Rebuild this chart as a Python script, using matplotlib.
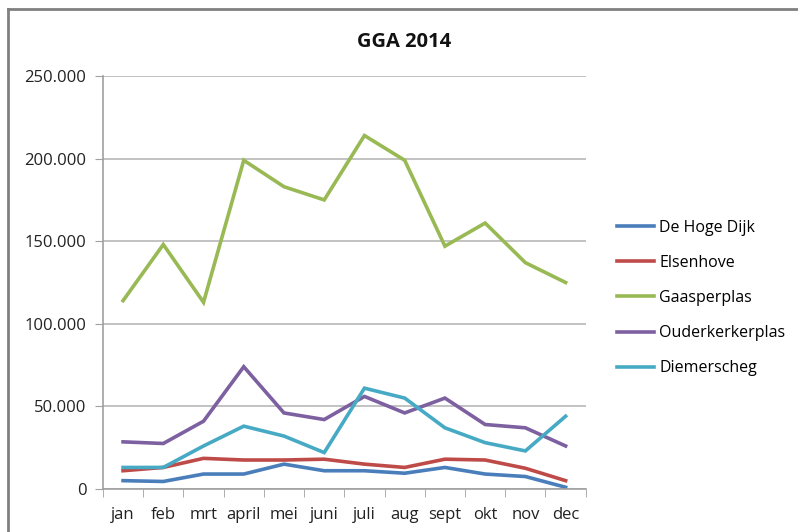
import matplotlib.pyplot as plt
from matplotlib.lines import Line2D
from matplotlib.ticker import FuncFormatter

plt.rcParams['font.family'] = ['Open Sans', 'DejaVu Sans']

maanden = ['jan', 'feb', 'mrt', 'april', 'mei', 'juni', 'juli', 'aug', 'sept', 'okt', 'nov', 'dec']
hoge_dijk = [5000, 4500, 9000, 9000, 15000, 11000, 11000, 9500, 13000, 9000, 7500, 1000]
elsenhove = [11000, 13000, 18500, 17500, 17500, 18000, 15000, 13000, 18000, 17500, 12500, 5000]
gaasperplas = [114000, 148000, 113000, 199000, 183000, 175000, 214000, 199000, 147000, 161000, 137000, 125000]
ouderkerkerplas = [28500, 27500, 41000, 74000, 46000, 42000, 56000, 46000, 55000, 39000, 37000, 26000]
diemerscheg = [13000, 13000, 26000, 38000, 32000, 22000, 61000, 55000, 37000, 28000, 23000, 44000]

reeksen = [('De Hoge Dijk', hoge_dijk, '#4a7ebb'),
           ('Elsenhove', elsenhove, '#be4b48'),
           ('Gaasperplas', gaasperplas, '#98b954'),
           ('Ouderkerkerplas', ouderkerkerplas, '#7d60a0'),
           ('Diemerscheg', diemerscheg, '#46aac5')]

fig = plt.figure(figsize=(7.98, 5.32), dpi=100)
ax = fig.add_axes([0.129, 0.081, 0.605, 0.776])

x = list(range(len(maanden)))
for naam, waarden, kleur in reeksen:
    ax.plot(x, waarden, color=kleur, lw=2.6, label=naam, solid_joinstyle='miter')

ax.set_xlim(-0.5, len(maanden) - 0.5)
ax.set_ylim(0, 250000)
ax.set_yticks(range(0, 250001, 50000))
ax.yaxis.set_major_formatter(FuncFormatter(lambda v, p: '{:,.0f}'.format(v).replace(',', '.')))
ax.set_xticks(x)
ax.set_xticklabels(maanden)
ax.set_xticks([i - 0.5 for i in range(len(maanden) + 1)], minor=True)
ax.tick_params(axis='x', which='major', length=0, pad=13, labelsize=12, colors='#222222')
ax.tick_params(axis='x', which='minor', length=6, color='#a0a0a0', direction='out')
ax.tick_params(axis='y', length=6, color='#a0a0a0', pad=6, labelsize=12, labelcolor='#222222')
ax.grid(axis='y', color='#b8b8b8', lw=1.2)
ax.set_axisbelow(True)
for s in ['top', 'right']:
    ax.spines[s].set_visible(False)
ax.spines['left'].set_color('#a0a0a0')
ax.spines['bottom'].set_color('#a0a0a0')
ax.spines['left'].set_linewidth(1.2)
ax.spines['bottom'].set_linewidth(1.2)

fig.text(0.507, 0.921, 'GGA 2014', ha='center', va='center', fontsize=14.5, fontweight='bold', color='#111111')

fig.legend(loc='upper left', bbox_to_anchor=(0.765, 0.599), frameon=False,
           fontsize=11.5, handlelength=2.3, handletextpad=0.35, labelspacing=1.2,
           borderaxespad=0)

# kader van het grafiekvenster
fig.add_artist(Line2D([0.010, 1.0], [0.983, 0.983], transform=fig.transFigure, color='#808080', lw=2))
fig.add_artist(Line2D([0.010, 0.010], [0.0, 0.983], transform=fig.transFigure, color='#808080', lw=2))

fig.savefig('out.png', dpi=100)
